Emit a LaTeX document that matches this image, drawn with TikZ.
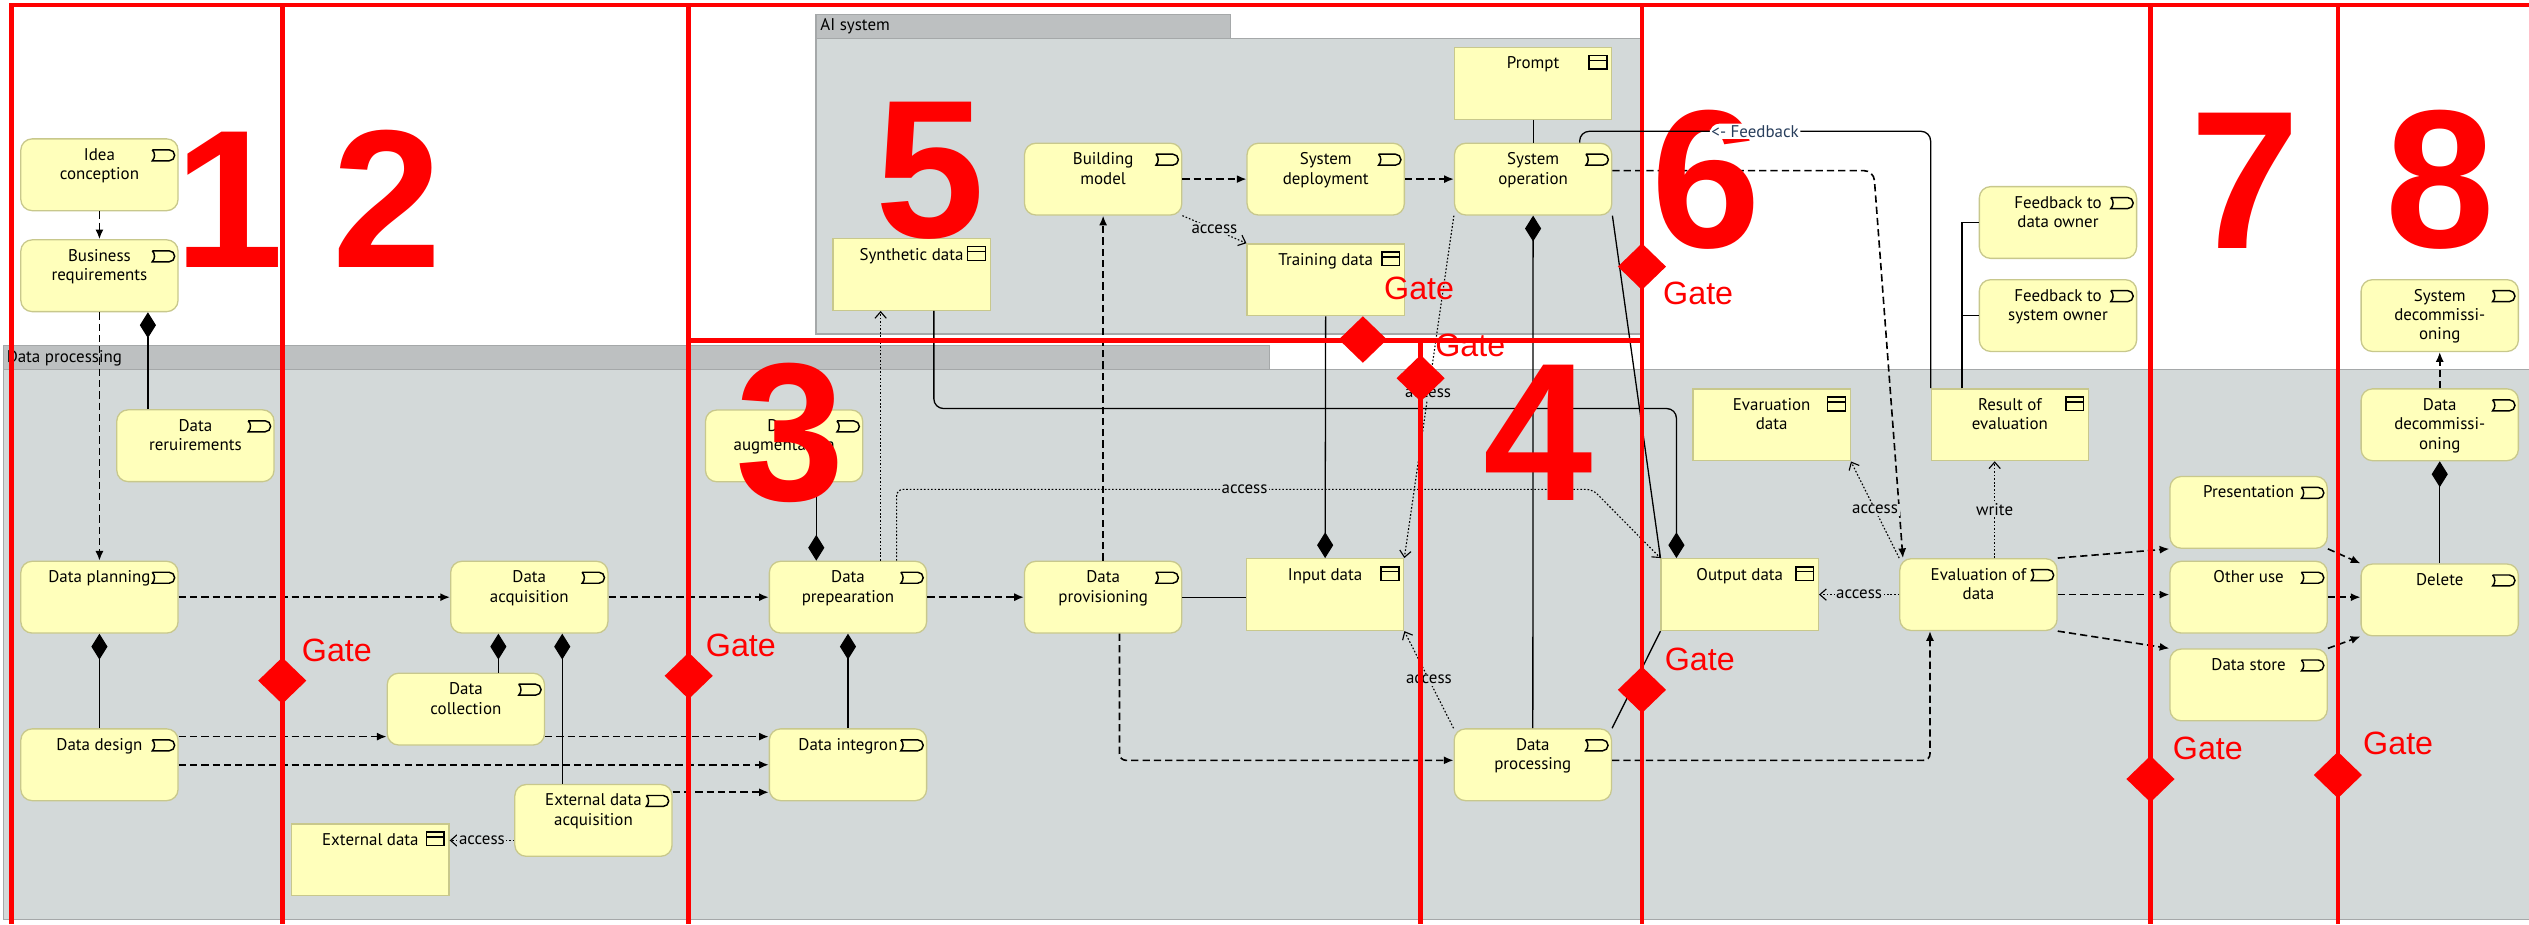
\documentclass[tikz,border=0pt]{standalone}
\usepackage{fontspec}
\setmainfont{PT Sans}
\newfontfamily\gatefont{Liberation Sans}
\usepackage{xcolor}
\usepackage{tikz}
\usetikzlibrary{arrows.meta}
\usetikzlibrary{shapes.geometric}
\usetikzlibrary{positioning}

\definecolor{boxfill}{RGB}{255,255,187}
\definecolor{boxline}{RGB}{200,200,140}
\definecolor{grpbody}{RGB}{211,217,217}
\definecolor{grphead}{RGB}{189,192,193}
\definecolor{grpline}{RGB}{165,168,169}
\definecolor{fbtext}{RGB}{40,62,92}

\begin{document}
\begin{tikzpicture}[
	x=1pt, y=-1pt,
	font=\fontsize{10.5}{12}\selectfont
]
\tikzset{
    mybox/.style = {draw=boxline, fill=boxfill, line width=0.8pt, anchor=north west, inner sep=0pt,
        minimum width=97.5pt, minimum height=44.5pt,
        execute at begin node={\begin{minipage}[c][44.5pt][t]{95pt}\centering\rule{0pt}{13.3pt}},
        execute at end node={\end{minipage}}},
    myproc/.style = {mybox, rounded corners=7pt, path picture={
        \draw[black, sharp corners, line width=0.9pt] ([shift={(-16pt,-6.8pt)}]path picture bounding box.north east)
            -- ++(10.5pt,0pt) arc[start angle=90, end angle=-90, radius=3.4pt] -- ++(-10.5pt,0pt) to[bend right=45] ++(0pt,6.8pt);}},
    mydata/.style = {mybox, path picture={
        \draw[black, line width=0.9pt] ([shift={(-14pt,-5pt)}]path picture bounding box.north east) rectangle ++(11pt,-8.5pt);
        \draw[black, line width=0.9pt] ([shift={(-14pt,-8pt)}]path picture bounding box.north east) -- ++(11pt,0pt);}},
    myflow/.style = {line width=1pt, dash pattern=on 4.5pt off 2.5pt, -{Latex[length=6pt,width=5pt]}},
    mycomp/.style = {line width=0.8pt, -{Diamond[length=16pt,width=10pt]}},
    myaccess/.style = {line width=0.7pt, dash pattern=on 1pt off 1.2pt, -{Straight Barb[length=4pt,width=7pt]}},
    myassoc/.style = {line width=0.8pt},
    mylabel/.style = {fill=grpbody, inner sep=1pt},
    myred/.style = {draw=red, line width=2.8pt},
    mygate/.style = {diamond, fill=red, inner sep=0pt, minimum width=30pt, minimum height=29pt},
    mygatetext/.style = {anchor=west, inner sep=0pt, text=red, font=\gatefont\fontsize{20}{22}\selectfont},
    mynum/.style = {anchor=base, inner sep=0pt, text=red, font=\gatefont\bfseries\fontsize{122}{122}\selectfont}
}
\useasboundingbox (0,0) rectangle (1568,573);
\fill[white] (0,0) rectangle (1568,573);

% groups
\filldraw[fill=grpbody, draw=grpline, line width=0.8pt] (2,229) rectangle (1575,570);
\filldraw[fill=grphead, draw=grpline, line width=0.8pt] (2,214) rectangle (787,229);
\node[anchor=west, inner sep=0pt] (dplabel) at (4,222) {Data processing};
\filldraw[fill=grpbody, draw=grpline, line width=0.8pt] (506,24) rectangle (1018,207);
\filldraw[fill=grphead, draw=grpline, line width=0.8pt] (506,9) rectangle (763,24);
\node[anchor=west, inner sep=0pt] (ailabel) at (508.5,16.5) {AI system};

% phase 1
\node[myproc] (idea) at (12.5,85.7) {Idea\\conception};
\node[myproc] (busreq) at (12.5,148.3) {Business\\requirements};
\node[myproc] (datareq) at (72,253.7) {Data\\reruirements};
\node[myproc] (planning) at (12.5,347.6) {Data planning};
\node[myproc] (design) at (12.5,451.5) {Data design};
% phase 2
\node[myproc] (acquisition) at (279,347.6) {Data\\acquisition};
\node[myproc] (collection) at (239.7,417) {Data\\collection};
\node[myproc] (extacq) at (318.8,486) {External data\\acquisition};
\node[mydata] (extdata) at (180.5,510.4) {External data};
% phase 3
\node[myproc] (augment) at (437,253.8) {Data\\augmentation};
\node[myproc] (prep) at (476.6,347.6) {Data\\prepearation};
\node[myproc] (integron) at (476.6,451.5) {Data integron};
\node[myproc] (prov) at (634.8,347.6) {Data\\provisioning};
\node[mydata] (input) at (772.4,346) {Input data};
% phase 4
\node[myproc] (dproc) at (901.2,451.5) {Data\\processing};
% phase 5
\node[mydata] (prompt) at (901.4,29) {Prompt};
\node[myproc] (build) at (634.8,88.4) {Building\\model};
\node[myproc] (deploy) at (772.8,88.4) {System\\deployment};
\node[myproc] (sysop) at (901.4,88.4) {System\\operation};
\node[mydata] (synth) at (516,147.5) {Synthetic data};
\node[mydata] (train) at (772.8,150.8) {Training data};
% phase 6
\node[mydata] (output) at (1029.5,346) {Output data};
\node[mydata] (evaldata) at (1049.3,240.8) {Evaruation\\data};
\node[mydata] (result) at (1197,240.7) {Result of\\evaluation};
\node[myproc] (fbdata) at (1226.8,115.3) {Feedback to\\data owner};
\node[myproc] (fbsys) at (1226.8,173) {Feedback to\\system owner};
\node[myproc] (eval) at (1177.5,346) {Evaluation of\\data};
% phase 7
\node[myproc] (present) at (1345,295) {Presentation};
\node[myproc] (other) at (1345,347.6) {Other use};
\node[myproc] (store) at (1345,402) {Data store};
% phase 8
\node[myproc] (delete) at (1463.5,349.3) {Delete};
\node[myproc] (datadec) at (1463.5,240.7) {Data\\decommissi-\\oning};
\node[myproc] (sysdec) at (1463.5,173) {System\\decommissi-\\oning};

% connectors
\draw[myflow] (idea) -- (busreq);
\draw[myflow] (busreq) -- (planning);
\draw[mycomp] ([xshift=-29.45]datareq.north) -- ([xshift=-29.45]datareq.north |- busreq.south);
\draw[mycomp] (design) -- (planning);
\draw[myflow] (planning) -- (acquisition);
\draw[mycomp] ([xshift=20.15]collection.north) -- ([xshift=20.15]collection.north |- acquisition.south);
\draw[mycomp] ([xshift=-19.35]extacq.north) -- ([xshift=-19.35]extacq.north |- acquisition.south);
\draw[myflow] ([yshift=17.45]design.east) -- ([yshift=17.45]design.east -| collection.west);
\draw[myflow] ([yshift=-17.05]collection.east) -- ([yshift=-17.05]collection.east -| integron.west);
\draw[myflow] (design) -- (integron);
\draw[myflow] ([yshift=17.45]extacq.east) -- ([yshift=17.45]extacq.east -| integron.west);
\draw[myaccess] ([yshift=-12.45]extacq.west) -- node[mylabel]{access} ([yshift=-12.45]extacq.west -| extdata.east);
\draw[myflow] (acquisition) -- (prep);
\draw[mycomp] (integron) -- (prep);
\draw[mycomp] ([xshift=19.95]augment.south) -- ([xshift=19.95]augment.south |- prep.north);
\draw[myflow] (prep) -- (prov);
\draw[myaccess] ([xshift=20.25]prep.north) -- ([xshift=20.25]prep.north |- synth.south);
\draw[myaccess, rounded corners=4pt] ([xshift=30.15]prep.north) -- ++(0,-44.2) -- node[mylabel]{access} ++(431.5,0) -- (output.north west);
\draw[myflow] (prov) -- (build);
\draw[myflow, rounded corners=4pt] ([xshift=10.15]prov.south) |- ([yshift=2.75]dproc.west);
\draw[myassoc] (prov.east) -- (prov.east -| input.west);
\draw[myaccess] (dproc.north west) -- node[mylabel]{access} (input.south east);
\draw[myflow, rounded corners=4pt] ([yshift=2.75]dproc.east) -| ([xshift=-30.05]eval.south);
\draw[myassoc] (dproc.north east) -- (output.south west);
\draw[mycomp] (dproc) -- (sysop);
\draw[myassoc] (prompt) -- (sysop);
\draw[myflow] (build) -- (deploy);
\draw[myflow] (deploy) -- (sysop);
\draw[myaccess] (build.south east) -- node[mylabel]{access} (train.north west);
\draw[myaccess] (sysop.south west) -- node[mylabel, pos=0.52]{access} (input.north east);
\draw[mycomp] (train) -- (input);
\draw[mycomp, rounded corners=6pt] ([xshift=13.85]synth.south) -- ++(0,60.5) -| ([xshift=-39.25]output.north);
\draw[myassoc] (sysop.south east) -- (output.north west);
\draw[myflow, rounded corners=6pt] ([yshift=5.25]sysop.east) -- ++(162,0) -- ([xshift=-46.85]eval.north);
\draw[myassoc] ([xshift=19.5]result.north west) |- (fbdata.west);
\draw[myassoc] ([xshift=19.5]result.north west) |- (fbsys.west);
\draw[myaccess] ([xshift=10.05]eval.north) -- node[mylabel]{write} ([xshift=10.05]eval.north |- result.south);
\draw[myaccess] (eval.north west) -- node[mylabel]{access} (evaldata.south east);
\draw[myaccess] (eval) -- node[mylabel]{access} (output);
\draw[myflow] (eval.north east) -- (present.south west);
\draw[myflow] (eval.east) -- (eval.east -| other.west);
\draw[myflow] (eval.south east) -- (store.north west);
\draw[myflow] (present.south east) -- (delete.north west);
\draw[myflow] (other.east) -- (other.east -| delete.west);
\draw[myflow] (store.north east) -- (delete.south west);
\draw[mycomp] (delete) -- (datadec);
\draw[myflow] (datadec) -- (sysdec);

% phase borders and gates
\draw[myred] (7,573) -- (7,3) -- (1568,3);
\draw[myred] (175,3) -- (175,573);
\draw[myred] (427,3) -- (427,573);
\draw[myred] (427,211) -- (1018,211);
\draw[myred] (880.8,211) -- (880.8,573);
\draw[myred] (1018,3) -- (1018,573);
\draw[myred] (1333.3,3) -- (1333.3,573);
\draw[myred] (1449.5,3) -- (1449.5,573);
\node[mygate] (gate12) at (175,422) {};
\node[mygate] (gate23) at (427,419) {};
\node[mygate] (gate35) at (845,210.5) {};
\node[mygate] (gate34) at (880.8,234.5) {};
\node[mygate] (gate56) at (1018,165.3) {};
\node[mygate] (gate46) at (1018,427.7) {};
\node[mygate] (gate67) at (1333.3,483) {};
\node[mygate] (gate78) at (1449.5,480.5) {};
\node[mygatetext] (gt12) at (187,403) {Gate};
\node[mygatetext] (gt23) at (437.5,400) {Gate};
\node[mygatetext] (gt35) at (858,179) {Gate};
\node[mygatetext] (gt34) at (889.7,214) {Gate};
\node[mygatetext] (gt56) at (1031,182) {Gate};
\node[mygatetext] (gt46) at (1032,409) {Gate};
\node[mygatetext] (gt67) at (1347,464) {Gate};
\node[mygatetext] (gt78) at (1465,461) {Gate};
\node[mynum] (num1) at (142,166) {1};
\node[mynum] (num2) at (240,166) {2};
\node[mynum] (num3) at (490,310.5) {3};
\node[mynum] (num4) at (954,310) {4};
\node[mynum] (num5) at (576.6,147.5) {5};
\node[mynum] (num6) at (1058,153.5) {6};
\node[mynum] (num7) at (1392,154) {7};
\node[mynum] (num8) at (1513,153.5) {8};

% feedback line lies over the red marks
\draw[myassoc, rounded corners=6pt] ([xshift=28.85]sysop.north) -- ++(0,-7) -| node[mylabel, fill=white, text=fbtext, pos=0.25]{<- Feedback} (result.north west);
\end{tikzpicture}
\end{document}
